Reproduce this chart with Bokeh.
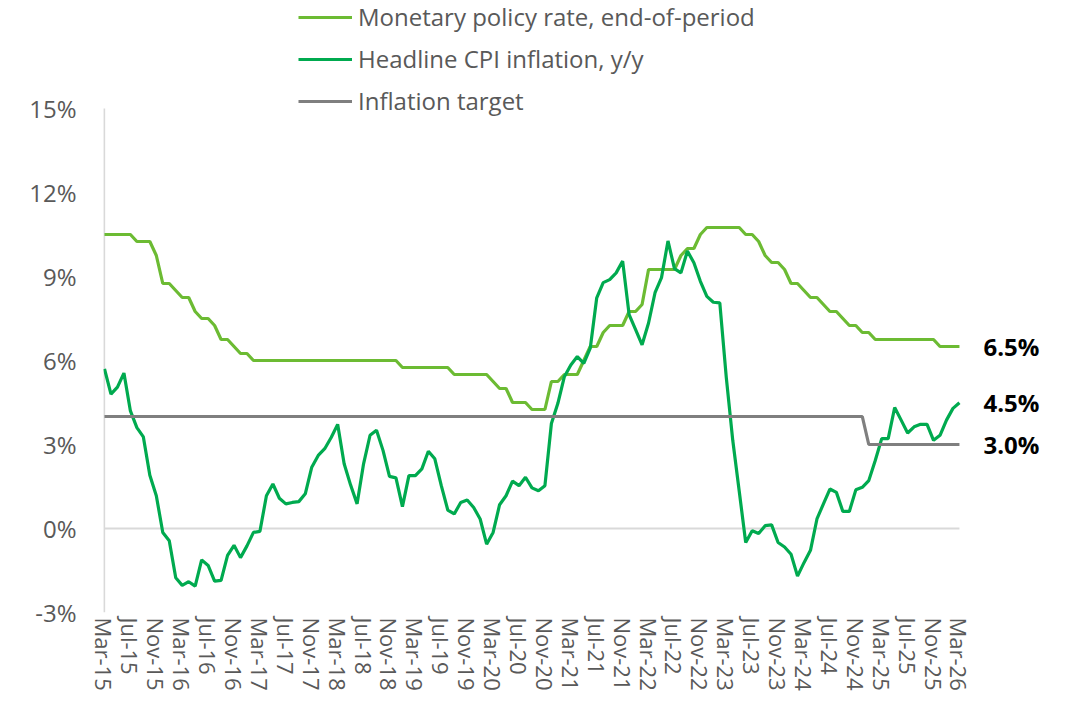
import pandas as pd
from bokeh.plotting import figure
from bokeh.models import ColumnDataSource, FixedTicker, Legend, LegendItem, Range1d
from bokeh.core.properties import value
from bokeh.embed import file_html
from bokeh.resources import INLINE

# ---------------- data ----------------
months = [d.strftime("%b-%y") for d in pd.date_range("2015-03-01", "2026-03-01", freq="MS")]

policy_rate = [
    10.5, 10.5, 10.5, 10.5, 10.5, 10.25, 10.25, 10.25, 9.75, 8.75, 8.75, 8.5,
    8.25, 8.25, 7.75, 7.5, 7.5, 7.25, 6.75, 6.75, 6.5, 6.25, 6.25, 6.0,
    6.0, 6.0, 6.0, 6.0, 6.0, 6.0, 6.0, 6.0, 6.0, 6.0, 6.0, 6.0,
    6.0, 6.0, 6.0, 6.0, 6.0, 6.0, 6.0, 6.0, 6.0, 6.0, 5.75, 5.75,
    5.75, 5.75, 5.75, 5.75, 5.75, 5.75, 5.5, 5.5, 5.5, 5.5, 5.5, 5.5,
    5.25, 5.0, 5.0, 4.5, 4.5, 4.5, 4.25, 4.25, 4.25, 5.25, 5.25, 5.5,
    5.5, 5.5, 6.0, 6.5, 6.5, 7.0, 7.25, 7.25, 7.25, 7.75, 7.75, 8.0,
    9.25, 9.25, 9.25, 9.25, 9.25, 9.75, 10.0, 10.0, 10.5, 10.75, 10.75, 10.75,
    10.75, 10.75, 10.75, 10.5, 10.5, 10.25, 9.75, 9.5, 9.5, 9.25, 8.75, 8.75,
    8.5, 8.25, 8.25, 8.0, 7.75, 7.75, 7.5, 7.25, 7.25, 7.0, 7.0, 6.75,
    6.75, 6.75, 6.75, 6.75, 6.75, 6.75, 6.75, 6.75, 6.75, 6.5, 6.5, 6.5,
    6.5,
]

cpi_inflation = [
    5.7, 4.8, 5.05, 5.55, 4.2, 3.6, 3.27, 1.9, 1.17, -0.14, -0.44, -1.76,
    -2.03, -1.9, -2.06, -1.12, -1.32, -1.88, -1.85, -0.96, -0.6, -1.04, -0.62, -0.14,
    -0.1, 1.17, 1.59, 1.08, 0.88, 0.93, 0.96, 1.24, 2.19, 2.61, 2.85, 3.25,
    3.72, 2.31, 1.55, 0.88, 2.31, 3.33, 3.51, 2.79, 1.86, 1.81, 0.78, 1.89,
    1.89, 2.13, 2.76, 2.49, 1.53, 0.66, 0.52, 0.93, 1.02, 0.75, 0.34, -0.56,
    -0.14, 0.85, 1.17, 1.69, 1.53, 1.83, 1.45, 1.35, 1.53, 3.75, 4.47, 5.42,
    5.84, 6.14, 5.9, 6.44, 8.24, 8.78, 8.89, 9.13, 9.55, 7.64, 7.1, 6.56,
    7.34, 8.42, 8.96, 10.27, 9.28, 9.13, 9.91, 9.49, 8.83, 8.29, 8.08, 8.06,
    5.4, 3.15, 1.33, -0.5, -0.08, -0.18, 0.1, 0.13, -0.5, -0.66, -0.92, -1.7,
    -1.22, -0.78, 0.34, 0.88, 1.41, 1.29, 0.61, 0.61, 1.38, 1.47, 1.71, 2.43,
    3.21, 3.21, 4.32, 3.87, 3.41, 3.63, 3.72, 3.72, 3.15, 3.33, 3.87, 4.29,
    4.49,
]

inflation_target = [
    4.0, 4.0, 4.0, 4.0, 4.0, 4.0, 4.0, 4.0, 4.0, 4.0, 4.0, 4.0,
    4.0, 4.0, 4.0, 4.0, 4.0, 4.0, 4.0, 4.0, 4.0, 4.0, 4.0, 4.0,
    4.0, 4.0, 4.0, 4.0, 4.0, 4.0, 4.0, 4.0, 4.0, 4.0, 4.0, 4.0,
    4.0, 4.0, 4.0, 4.0, 4.0, 4.0, 4.0, 4.0, 4.0, 4.0, 4.0, 4.0,
    4.0, 4.0, 4.0, 4.0, 4.0, 4.0, 4.0, 4.0, 4.0, 4.0, 4.0, 4.0,
    4.0, 4.0, 4.0, 4.0, 4.0, 4.0, 4.0, 4.0, 4.0, 4.0, 4.0, 4.0,
    4.0, 4.0, 4.0, 4.0, 4.0, 4.0, 4.0, 4.0, 4.0, 4.0, 4.0, 4.0,
    4.0, 4.0, 4.0, 4.0, 4.0, 4.0, 4.0, 4.0, 4.0, 4.0, 4.0, 4.0,
    4.0, 4.0, 4.0, 4.0, 4.0, 4.0, 4.0, 4.0, 4.0, 4.0, 4.0, 4.0,
    4.0, 4.0, 4.0, 4.0, 4.0, 4.0, 4.0, 4.0, 4.0, 4.0, 3.0, 3.0,
    3.0, 3.0, 3.0, 3.0, 3.0, 3.0, 3.0, 3.0, 3.0, 3.0, 3.0, 3.0,
    3.0,
]

series_names = ["Monetary policy rate, end-of-period", "Headline CPI inflation, y/y", "Inflation target"]
y_ticks = [-3, 0, 3, 6, 9, 12, 15]
tick_every = 4

# ---------------- styling ----------------
FONT = "Open Sans"
C_POLICY = "#6cbb33"
C_CPI = "#00aa4f"
C_TARGET = "#7f7f7f"
TXT = "#595959"

n = len(months)
idx = list(range(n))
src = ColumnDataSource(dict(x=idx, policy=policy_rate, cpi=cpi_inflation, target=inflation_target))

p = figure(width=1080, height=705, output_backend="svg", toolbar_location=None,
           x_range=Range1d(-0.154, 150.69), y_range=Range1d(-3, 18.857))
p.min_border_left = 103
p.min_border_right = 0
p.min_border_top = 0
p.min_border_bottom = 93
p.outline_line_color = None
p.background_fill_color = "white"
p.grid.visible = False

# zero line and custom y-axis line
p.segment(x0=[idx[0]], y0=[0], x1=[idx[-1]], y1=[0], line_color="#d9d9d9", line_width=2)
p.segment(x0=[-0.05], y0=[y_ticks[0]], x1=[-0.05], y1=[y_ticks[-1]], line_color="#d9d9d9", line_width=2)

r_policy = p.line("x", "policy", source=src, line_color=C_POLICY, line_width=3.2)
r_cpi = p.line("x", "cpi", source=src, line_color=C_CPI, line_width=3.2)
r_target = p.line("x", "target", source=src, line_color=C_TARGET, line_width=3.2)

# end-of-series labels
last = n - 1
lab_vals = [policy_rate[last], cpi_inflation[last], inflation_target[last]]
p.text(x=[last] * 3, y=lab_vals, text=[f"{v:.1f}%" for v in lab_vals],
       x_offset=24, text_baseline="middle", text_align="left",
       text_font=value(FONT), text_font_style="bold", text_font_size="24px", text_color="black")

# axes
xa = p.xaxis[0]
xa.ticker = FixedTicker(ticks=idx[::tick_every])
xa.major_label_overrides = {i: months[i] for i in idx[::tick_every]}
xa.major_label_orientation = "vertical"
xa.axis_line_color = None
xa.major_tick_line_color = None
xa.minor_tick_line_color = None
xa.major_tick_out = 0
xa.major_tick_in = 0
xa.minor_tick_out = 0
xa.major_label_standoff = 5
xa.major_label_text_font = FONT
xa.major_label_text_font_size = "22px"
xa.major_label_text_color = TXT

ya = p.yaxis[0]
ya.ticker = FixedTicker(ticks=y_ticks)
ya.major_label_overrides = {t: f"{t}%" for t in y_ticks}
ya.axis_line_color = None
ya.major_tick_line_color = None
ya.minor_tick_line_color = None
ya.major_tick_out = 0
ya.major_tick_in = 0
ya.minor_tick_out = 0
ya.major_label_standoff = 27
ya.major_label_text_font = FONT
ya.major_label_text_font_size = "24px"
ya.major_label_text_color = TXT

legend = Legend(items=[LegendItem(label=series_names[0], renderers=[r_policy]),
                       LegendItem(label=series_names[1], renderers=[r_cpi]),
                       LegendItem(label=series_names[2], renderers=[r_target])],
                location=(195, 495), orientation="vertical",
                glyph_width=54, glyph_height=30, label_height=30, label_standoff=6,
                spacing=9, padding=0, margin=0,
                border_line_color=None, background_fill_alpha=0,
                label_text_font=FONT, label_text_font_size="24px", label_text_color=TXT,
                label_text_baseline="middle")
p.add_layout(legend, "center")

open("out.html", "w").write(file_html(p, INLINE))
